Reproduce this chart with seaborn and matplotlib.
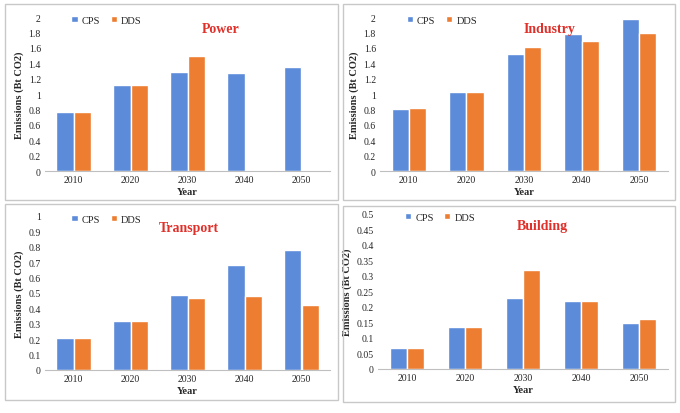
import matplotlib.pyplot as plt
import seaborn as sns
import pandas as pd
from matplotlib.patches import Rectangle

years = ["2010", "2020", "2030", "2040", "2050"]
power_cps = [0.76, 1.12, 1.28, 1.27, 1.35]
power_dds = [0.76, 1.12, 1.49, None, None]
industry_cps = [0.81, 1.02, 1.52, 1.78, 1.97]
industry_dds = [0.82, 1.02, 1.61, 1.69, 1.79]
transport_cps = [0.21, 0.32, 0.49, 0.68, 0.78]
transport_dds = [0.21, 0.32, 0.47, 0.48, 0.42]
building_cps = [0.068, 0.135, 0.228, 0.22, 0.15]
building_dds = [0.068, 0.135, 0.318, 0.22, 0.16]

sns.set_style("white")
plt.rcParams['font.family'] = ['Liberation Serif', 'DejaVu Serif']

W, H = 680, 414
fig = plt.figure(figsize=(W / 100, H / 100), dpi=100)

panels = [
    ("Power", power_cps, power_dds, 2, 0.2, (5, 5, 333, 196), (45, 18, 285, 154), 0.55),
    ("Industry", industry_cps, industry_dds, 2, 0.2, (343, 5, 332, 196), (380, 18, 288, 154), 0.5),
    ("Transport", transport_cps, transport_dds, 1, 0.1, (5, 205, 333, 196), (45, 217, 285, 154), 0.4),
    ("Building", building_cps, building_dds, 0.5, 0.05, (343, 207, 332, 196), (378, 215, 290, 155), 0.48),
]

for title, cps, dds, ymax, step, box, ax_px, tx in panels:
    bx, by, bw, bh = box
    fig.patches.append(Rectangle((bx / W, 1 - (by + bh) / H), bw / W, bh / H,
                                 transform=fig.transFigure, fill=False,
                                 edgecolor="#c8c8c8", lw=1))
    x, y, w, h = ax_px
    ax = fig.add_axes([x / W, 1 - (y + h) / H, w / W, h / H])
    df = pd.DataFrame({
        "Year": years * 2,
        "val": cps + dds,
        "s": ["CPS"] * 5 + ["DDS"] * 5,
    })
    sns.barplot(data=df, x="Year", y="val", hue="s", ax=ax,
                palette=["#5b8bd9", "#ed7d31"], width=0.6, saturation=1)
    ax.set_ylim(0, ymax)
    n = int(round(ymax / step))
    ticks = [round(i * step, 2) for i in range(n + 1)]
    ax.set_yticks(ticks)
    ax.set_yticklabels([("%g" % t) for t in ticks])
    ax.tick_params(axis="both", labelsize=7, length=0, pad=3)
    for s in ["top", "right", "left"]:
        ax.spines[s].set_visible(False)
    ax.spines["bottom"].set_color("#bfbfbf")
    ax.set_xlabel("Year", fontsize=7.5, fontweight="bold", labelpad=2)
    ax.set_ylabel("Emissions (Bt CO2)", fontsize=7.5, fontweight="bold", labelpad=3)
    ax.legend(loc="upper left", bbox_to_anchor=(0.06, 1.07), ncol=2, frameon=False,
              fontsize=7.5, handlelength=0.6, handleheight=0.6,
              columnspacing=1.0, handletextpad=0.4)
    ax.text(tx, 0.97, title, transform=ax.transAxes, color="#e0302a",
            fontsize=10, fontweight="bold", ha="left", va="top")

fig.savefig("out.png", dpi=100)
